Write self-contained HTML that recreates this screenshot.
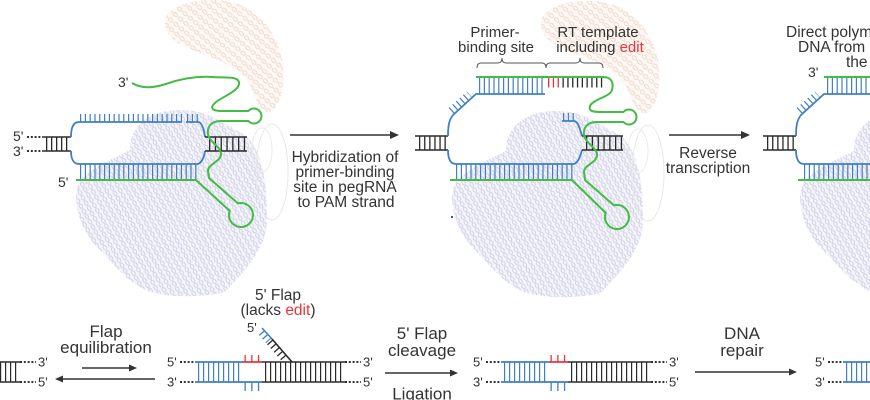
<!DOCTYPE html>
<html><head><meta charset="utf-8">
<style>
html,body{margin:0;padding:0;background:#fff;width:870px;height:400px;overflow:hidden}
svg{display:block}
text{font-family:"Liberation Sans",Arial,sans-serif;fill:#333}
</style></head>
<body>
<svg width="870" height="400" viewBox="0 0 870 400" xmlns="http://www.w3.org/2000/svg">
<defs>
  <pattern id="hx" width="6" height="6" patternUnits="userSpaceOnUse" patternTransform="rotate(60)">
    <rect width="6" height="6" fill="#f4f4fa"/>
    <ellipse cx="3" cy="3" rx="2.4" ry="1.6" fill="none" stroke="#cfd0e6" stroke-width="1"/>
  </pattern>
  <pattern id="pk" width="7" height="7" patternUnits="userSpaceOnUse" patternTransform="rotate(40)">
    <rect width="7" height="7" fill="#fdf8f5"/>
    <ellipse cx="3.5" cy="3.5" rx="2.6" ry="1.6" fill="none" stroke="#efd7c8" stroke-width="1"/>
  </pattern>
  <g id="prot">
    <path d="M78,185 C85,170 110,160 130,150 C130,125 150,110 180,110 C210,110 225,125 245,135 C262,150 268,185 267,220 C266,250 245,270 225,292 C200,298 165,298 145,290 C125,280 110,260 95,245 C82,230 72,205 78,185 Z" fill="url(#hx)"/>
    <path d="M165,20 C170,5 190,0 215,0 C245,0 270,20 280,50 C286,75 284,100 272,112 C262,115 255,100 250,85 C240,70 225,62 205,55 C185,48 162,38 165,20 Z" fill="url(#pk)"/>
    <ellipse cx="272" cy="172" rx="16" ry="48" fill="none" stroke="#e8e8e8" stroke-width="1"/>
    <ellipse cx="262" cy="150" rx="10" ry="22" fill="none" stroke="#ebebeb" stroke-width="1"/>
  </g>

  <!-- structure 2 DNA -->
  <g id="s2" fill="none">
    <path d="M415,136H448M415,150H448" stroke="#2a2a2a" stroke-width="1.6"/>
    <line x1="419" y1="143" x2="447" y2="143" stroke="#2a2a2a" stroke-width="14" stroke-dasharray="1.3 3.8"/>
    <path d="M448,136 C448,126 449,120 453,115 L476,94 L545,94" stroke="#3f7fc4" stroke-width="1.8"/>
    <line x1="451.4" y1="111" x2="469.5" y2="94.5" stroke="#3f7fc4" stroke-width="8" stroke-dasharray="1.2 3.6"/>
    <line x1="479" y1="85.5" x2="545" y2="85.5" stroke="#3f7fc4" stroke-width="17" stroke-dasharray="1.2 3.6"/>
    <line x1="548" y1="82.5" x2="561" y2="82.5" stroke="#e8343a" stroke-width="10" stroke-dasharray="1.3 3.5"/>
    <line x1="562.5" y1="82.5" x2="603" y2="82.5" stroke="#2a2a2a" stroke-width="10" stroke-dasharray="1.3 3.5"/>
    <path d="M562,121 L574,121 C578,121 580,129 582,136" stroke="#3f7fc4" stroke-width="1.8"/>
    <line x1="563" y1="117" x2="575" y2="117" stroke="#3f7fc4" stroke-width="8" stroke-dasharray="1.2 3.6"/>
    <path d="M448,150 C448,158 450,164 456,164 L573,164 C577,164 580,158 582,150" stroke="#3f7fc4" stroke-width="1.8"/>
    <line x1="456" y1="172" x2="573" y2="172" stroke="#3f7fc4" stroke-width="16" stroke-dasharray="1.2 3.6"/>
    <path d="M582,136H623M582,150H623" stroke="#2a2a2a" stroke-width="1.6"/>
    <line x1="586" y1="143" x2="623" y2="143" stroke="#2a2a2a" stroke-width="14" stroke-dasharray="1.3 4.5"/>
    <path d="M476,77 L603,77 C611,77 614,82 612,90 C610,97 593,99 590,106 C588,112 595,112 603,112 L623.4,112 A7.5,7.5 0 1 1 623.4,122 L597,122 C587,122 583,128 584,135 C585,143 598,148 597,156 C596,163 584,165 584,172 L585,180 L613.9,205.4 A12,12 0 1 1 605.7,212.9 L572,180 L450,180" stroke="#44bb44" stroke-width="2" stroke-linejoin="round"/>
  </g>

  <!-- bottom structure common -->
  <g id="bs">
    <text x="167" y="366.5" font-size="13">5'</text>
    <text x="167" y="386.5" font-size="13">3'</text>
    <path d="M180,362H195M180,382H195M345,362H361M345,382H361" stroke="#333" stroke-width="2" stroke-dasharray="2 1.8" fill="none"/>
    <path d="M195,362H243M195,382H262" stroke="#3f7fc4" stroke-width="1.8" fill="none"/>
    <path d="M243,362H262" stroke="#e8343a" stroke-width="1.8" fill="none"/>
    <path d="M262,362H345M262,382H345" stroke="#2a2a2a" stroke-width="1.6" fill="none"/>
    <line x1="198" y1="372" x2="242" y2="372" stroke="#3f7fc4" stroke-width="20" stroke-dasharray="1.2 3.8"/>
    <line x1="265" y1="372" x2="345" y2="372" stroke="#2a2a2a" stroke-width="20" stroke-dasharray="1.2 3.8"/>
    <line x1="244.5" y1="358.5" x2="262" y2="358.5" stroke="#e8343a" stroke-width="7" stroke-dasharray="1.3 5.4"/>
    <line x1="244.5" y1="386.5" x2="262" y2="386.5" stroke="#3f7fc4" stroke-width="9" stroke-dasharray="1.3 5.4"/>
    <text x="363" y="366.5" font-size="13">3'</text>
    <text x="363" y="386.5" font-size="13">5'</text>
  </g>
</defs>

<!-- protein backgrounds -->
<use href="#prot"/>
<use href="#prot" transform="translate(376,1)"/>
<use href="#prot" transform="translate(724,1)"/>

<!-- Structure 1 -->
<g fill="none">
  <path d="M27,137H43M27,151H43" stroke="#333" stroke-width="2" stroke-dasharray="2 1.8"/>
  <path d="M43,137H71M43,151H71" stroke="#2a2a2a" stroke-width="1.6"/>
  <line x1="46" y1="144" x2="71" y2="144" stroke="#2a2a2a" stroke-width="14" stroke-dasharray="1.3 3.7"/>
  <path d="M71,137 C71,128 73,122 79,122 L182,122" stroke="#3f7fc4" stroke-width="1.8"/>
  <line x1="80" y1="118" x2="182" y2="118" stroke="#3f7fc4" stroke-width="8" stroke-dasharray="1.2 3.6"/>
  <path d="M186,122 L198,122 C202,122 204,130 205,137" stroke="#3f7fc4" stroke-width="1.8"/>
  <line x1="187" y1="118" x2="199" y2="118" stroke="#3f7fc4" stroke-width="8" stroke-dasharray="1.2 3.6"/>
  <path d="M71,151 C71,158 73,164 79,164 L197,164 C201,164 204,158 205,151" stroke="#3f7fc4" stroke-width="1.8"/>
  <line x1="80" y1="172" x2="197" y2="172" stroke="#3f7fc4" stroke-width="16" stroke-dasharray="1.2 3.6"/>
  <path d="M205,137H247M205,151H247" stroke="#2a2a2a" stroke-width="1.6"/>
  <line x1="209" y1="144" x2="247" y2="144" stroke="#2a2a2a" stroke-width="14" stroke-dasharray="1.3 4.5"/>
  <path d="M132,83 C142,89 153,88 166,84 C180,79 196,76 212,77 C226,78 237,76 239,82 C241,90 224,96 216,102 C209,108 212,111 222,111 L248.4,111 A7.5,7.5 0 1 1 248.4,121 L221,121 C211,121 207,127 208,134 C209,142 222,147 221,155 C220,162 208,164 208,171 L209,178 L237.9,203.4 A12,12 0 1 1 229.7,210.9 L196,180 L76,180" stroke="#44bb44" stroke-width="2" stroke-linejoin="round"/>
</g>
<text x="118" y="87" font-size="14">3'</text>
<text x="13" y="141" font-size="14">5'</text>
<text x="13" y="156" font-size="14">3'</text>
<text x="58" y="187" font-size="14">5'</text>

<!-- Arrow 1 + label -->
<path d="M290,135H392" stroke="#333" stroke-width="1.5"/>
<polygon points="399,135 390,131 390,139" fill="#333"/>
<g font-size="15.5" text-anchor="middle">
  <text x="345" y="162">Hybridization of</text>
  <text x="345" y="177">primer-binding</text>
  <text x="345" y="192">site in pegRNA</text>
  <text x="346" y="207">to PAM strand</text>
</g>
<rect x="451" y="216" width="2" height="2" fill="#3355cc"/>

<!-- Structure 2 -->
<use href="#s2"/>
<g font-size="15" text-anchor="middle">
  <text x="495" y="37">Primer-</text>
  <text x="496" y="52">binding site</text>
  <text x="598" y="37">RT template</text>
  <text x="600" y="52">including <tspan fill="#e8343a">edit</tspan></text>
</g>
<path d="M477,68 Q477,63 481,63 L498,63 Q502,63 502,58 Q502,63 506,63 L542,63 Q546,63 546,68 M546,68 Q546,63 550,63 L576,63 Q580,63 580,58 Q580,63 584,63 L599,63 Q603,63 603,68" fill="none" stroke="#555" stroke-width="1"/>

<!-- Arrow 2 -->
<path d="M669,135H743" stroke="#333" stroke-width="1.5"/>
<polygon points="750,135 741,131 741,139" fill="#333"/>
<g font-size="15.5" text-anchor="middle">
  <text x="708" y="158">Reverse</text>
  <text x="708" y="173">transcription</text>
</g>

<!-- Structure 3 -->
<use href="#s2" transform="translate(348,0)"/>
<g font-size="15.5">
  <text x="786" y="37">Direct polymerization of</text>
  <text x="798" y="52">DNA from nicked</text>
  <text x="846" y="67">the</text>
</g>
<text x="808" y="77" font-size="14">3'</text>

<!-- Bottom row -->
<use href="#bs" transform="translate(-325,0)"/>
<use href="#bs"/>
<use href="#bs" transform="translate(306,0)"/>
<use href="#bs" transform="translate(648,0)"/>

<!-- flap on BS1 -->
<path d="M292,362 L272,339" stroke="#2a2a2a" stroke-width="1.6" fill="none"/>
<path d="M272,339 L262,328" stroke="#3f7fc4" stroke-width="1.6" fill="none"/>
<line x1="261.4" y1="332.55" x2="268.67" y2="340.8" stroke="#3f7fc4" stroke-width="7" stroke-dasharray="1.3 3.7"/>
<line x1="269.66" y1="341.93" x2="284.56" y2="358.8" stroke="#2a2a2a" stroke-width="7" stroke-dasharray="1.3 3.7"/>
<text x="247" y="332" font-size="13">5'</text>
<g font-size="15.5" text-anchor="middle">
  <text x="278" y="300">5' Flap</text>
  <text x="278" y="315">(lacks <tspan fill="#e8343a">edit</tspan>)</text>
</g>

<!-- Flap equilibration -->
<g font-size="17" text-anchor="middle">
  <text x="106" y="337">Flap</text>
  <text x="106" y="353">equilibration</text>
</g>
<path d="M82,368H130" stroke="#333" stroke-width="1.5"/>
<polygon points="137,368 129,364.5 129,371.5" fill="#333"/>
<path d="M155,379H62" stroke="#333" stroke-width="1.5"/>
<polygon points="55,379 63,375.5 63,382.5" fill="#333"/>

<!-- cleavage -->
<g font-size="17" text-anchor="middle">
  <text x="422" y="339">5' Flap</text>
  <text x="422" y="356">cleavage</text>
  <text x="422" y="399.5">Ligation</text>
</g>
<path d="M385,373H451" stroke="#333" stroke-width="1.5"/>
<polygon points="458,373 450,369.5 450,376.5" fill="#333"/>

<!-- repair -->
<g font-size="17" text-anchor="middle">
  <text x="742" y="339">DNA</text>
  <text x="742" y="356">repair</text>
</g>
<path d="M695,372H790" stroke="#333" stroke-width="1.5"/>
<polygon points="797,372 789,368.5 789,375.5" fill="#333"/>
</svg>
</body></html>
